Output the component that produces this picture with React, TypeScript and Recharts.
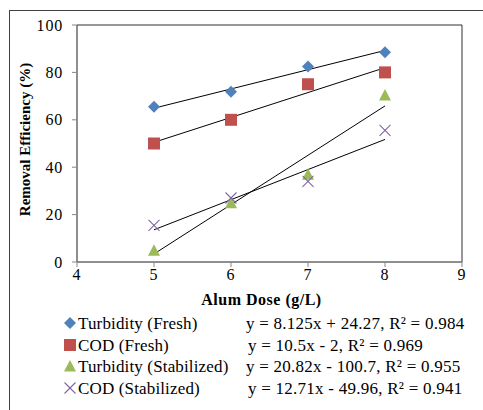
import { ComposedChart, Scatter, Line, XAxis, YAxis, ReferenceArea } from "recharts";

const doses = [5, 6, 7, 8];
const turbidityFresh = [65.5, 71.8, 82.5, 88.5];
const codFresh = [50, 60, 75, 80];
const turbidityStabilized = [5, 25, 37, 70.5];
const codStabilized = [15.5, 27, 34, 55.5];

const seriesNames = ["Turbidity (Fresh)", "COD (Fresh)", "Turbidity (Stabilized)", "COD (Stabilized)"];
const seriesValues = [turbidityFresh, codFresh, turbidityStabilized, codStabilized];
const seriesColors = ["#4F81BD", "#C0504D", "#9BBB59", "#8064A2"];
const slopes = [8.125, 10.5, 20.82, 12.71];
const intercepts = [24.27, -2, -100.7, -49.96];
const rSquared = ["0.984", "0.969", "0.955", "0.941"];

const xTicks = [4, 5, 6, 7, 8, 9];
const yTicks = [0, 20, 40, 60, 80, 100];

const FONT = "'Liberation Serif', 'Times New Roman', serif";

type MarkerProps = { cx?: number; cy?: number; kind: number; color: string };

function Marker({ cx = 0, cy = 0, kind, color }: MarkerProps) {
  if (kind === 0) {
    const r = 6;
    return <polygon points={`${cx},${cy - r} ${cx + r},${cy} ${cx},${cy + r} ${cx - r},${cy}`} fill={color} />;
  }
  if (kind === 1) {
    return <rect x={cx - 6} y={cy - 6} width={12} height={12} fill={color} />;
  }
  if (kind === 2) {
    return <polygon points={`${cx},${cy - 6} ${cx + 6},${cy + 5.5} ${cx - 6},${cy + 5.5}`} fill={color} />;
  }
  const r = 5.5;
  return (
    <g stroke={color} strokeWidth={1.1}>
      <line x1={cx - r} y1={cy - r} x2={cx + r} y2={cy + r} />
      <line x1={cx - r} y1={cy + r} x2={cx + r} y2={cy - r} />
    </g>
  );
}

function equation(i: number) {
  const b = intercepts[i];
  const sign = b < 0 ? "-" : "+";
  return `y = ${slopes[i]}x ${sign} ${Math.abs(b)}, R² = ${rSquared[i]}`;
}

function YTitle({ viewBox }: any) {
  const cy = viewBox.y + viewBox.height / 2 - 4;
  return (
    <text
      x={27}
      y={cy}
      transform={`rotate(-90, 27, ${cy})`}
      textAnchor="middle"
      dominantBaseline="middle"
      fontFamily={FONT}
      fontWeight="bold"
      fontSize={15}
      fill="#000"
    >
      Removal Efficiency (%)
    </text>
  );
}

const tickStyle = { fill: "#000", fontSize: 16, fontFamily: FONT, letterSpacing: 0.8 };

export default function App() {
  const scatterData = seriesValues.map((vals) => doses.map((x, j) => ({ x, y: vals[j] })));
  const trendData = slopes.map((m, i) => {
    const x0 = doses[0];
    const x1 = doses[doses.length - 1];
    return [
      { x: x0, y: m * x0 + intercepts[i] },
      { x: x1, y: m * x1 + intercepts[i] },
    ];
  });

  return (
    <div style={{ position: "relative", width: 483, height: 410, fontFamily: FONT, overflow: "hidden" }}>
      <style>{"body{margin:0}"}</style>
      <div
        style={{
          position: "absolute",
          left: 9,
          top: 10,
          width: 490,
          height: 420,
          borderTop: "1px solid #404040",
          borderLeft: "1px solid #404040",
        }}
      />
      <div style={{ position: "absolute", left: 0, top: 0 }}>
        <ComposedChart width={483} height={410} margin={{ top: 25, right: 21, bottom: 103, left: 17 }}>
          <XAxis
            dataKey="x"
            type="number"
            domain={[4, 9]}
            ticks={xTicks}
            allowDataOverflow
            height={45}
            stroke="#868686"
            tickSize={5}
            tick={tickStyle}
            label={{
              value: "Alum Dose (g/L)",
              position: "insideBottom",
              offset: 2,
              dx: -8,
              fill: "#000",
              fontSize: 16,
              letterSpacing: 0.5,
              fontWeight: "bold",
              fontFamily: FONT,
            }}
          />
          <YAxis
            type="number"
            domain={[0, 100]}
            ticks={yTicks}
            width={60}
            stroke="#868686"
            tickSize={5}
            tickMargin={9}
            tick={tickStyle}
            label={<YTitle />}
          />
          <ReferenceArea x1={4} x2={9} y1={0} y2={100} fill="none" stroke="#303030" strokeWidth={1} />
          {scatterData.map((d, i) => (
            <Scatter
              key={seriesNames[i]}
              name={seriesNames[i]}
              data={d}
              dataKey="y"
              isAnimationActive={false}
              shape={(p: any) => <Marker cx={p.cx} cy={p.cy} kind={i} color={seriesColors[i]} />}
            />
          ))}
          {trendData.map((d, i) => (
            <Line
              key={"trend" + i}
              data={d}
              dataKey="y"
              type="linear"
              stroke="#000"
              strokeWidth={1}
              dot={false}
              activeDot={false}
              legendType="none"
              isAnimationActive={false}
            />
          ))}
        </ComposedChart>
      </div>
      <div style={{ position: "absolute", left: 0, top: 313, fontSize: 17, color: "#000", lineHeight: "21.5px" }}>
        {seriesNames.map((name, i) => (
          <div key={name} style={{ position: "relative", height: 21.5, width: 483 }}>
            <svg width={14} height={14} style={{ position: "absolute", left: 63, top: 3 }}>
              <Marker cx={7} cy={7} kind={i} color={seriesColors[i]} />
            </svg>
            <span style={{ position: "absolute", left: 78, whiteSpace: "nowrap", letterSpacing: 0.15 }}>{name}</span>
            <span style={{ position: "absolute", left: i % 2 === 1 ? 248 : 246, whiteSpace: "nowrap", letterSpacing: 0.25 }}>
              {equation(i)}
            </span>
          </div>
        ))}
      </div>
    </div>
  );
}
